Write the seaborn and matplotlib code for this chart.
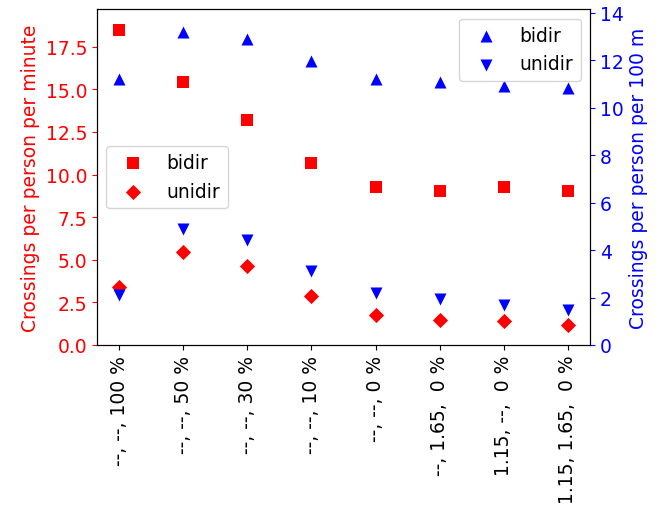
import pandas as pd
import seaborn as sns
import matplotlib
matplotlib.use("Agg")
import matplotlib.pyplot as plt

# tick labels for the eight scenarios
labels = ["--, --, 100 %", "--, --, 50 %", "--, --, 30 %", "--, --, 10 %",
          "--, --, 0 %", "--, 1.65,  0 %", "1.15, --,  0 %", "1.15, 1.65,  0 %"]

# crossings per person per minute (left axis)
time_bidir = [18.5, 15.4, 13.2, 10.7, 9.25, 9.05, 9.25, 9.05]
time_unidir = [3.4, 5.45, 4.65, 2.9, 1.75, 1.45, 1.4, 1.2]

# crossings per person per 100 m (right axis)
dist_bidir = [11.2, 13.2, 12.9, 11.97, 11.2, 11.08, 10.9, 10.83]
dist_unidir = [2.1, 4.9, 4.44, 3.13, 2.2, 1.95, 1.7, 1.48]

plt.rcParams["font.size"] = 13.5

df = pd.DataFrame({"label": labels,
                   "time_bidir": time_bidir, "time_unidir": time_unidir,
                   "dist_bidir": dist_bidir, "dist_unidir": dist_unidir})

fig, ax = plt.subplots(figsize=(6.67, 5.1), dpi=100)
ax2 = ax.twinx()

sns.scatterplot(data=df, x="label", y="time_bidir", marker="s", color="red",
                s=75, linewidth=0, label="bidir", ax=ax)
sns.scatterplot(data=df, x="label", y="time_unidir", marker="D", color="red",
                s=60, linewidth=0, label="unidir", ax=ax)
sns.scatterplot(data=df, x="label", y="dist_bidir", marker="^", color="blue",
                s=75, linewidth=0, label="bidir", ax=ax2)
sns.scatterplot(data=df, x="label", y="dist_unidir", marker="v", color="blue",
                s=75, linewidth=0, label="unidir", ax=ax2)

ax.set_ylim(0, 19.7)
ax2.set_ylim(0, 14.15)
ax.set_xlabel("")
ax.set_ylabel("Crossings per person per minute", color="red")
ax2.set_ylabel("Crossings per person per 100 m", color="blue")
ax.tick_params(axis="y", colors="red")
ax2.tick_params(axis="y", colors="blue")
ax.tick_params(axis="x", rotation=90)

ax.legend(loc="center left", bbox_to_anchor=(0.0, 0.5))
ax2.legend(loc="upper right")

fig.subplots_adjust(left=0.1454, right=0.8846, top=0.980, bottom=0.3216)
plt.savefig("out.png", dpi=100)
